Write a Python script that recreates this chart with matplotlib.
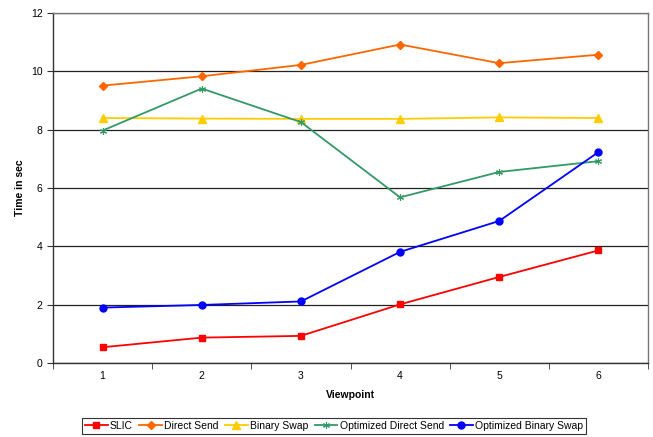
import matplotlib
matplotlib.use('Agg')
import matplotlib.pyplot as plt
import numpy as np

plt.rcParams['font.family'] = ['Liberation Sans', 'DejaVu Sans']

# --- Data ---
viewpoints = [1, 2, 3, 4, 5, 6]
slic = [0.54, 0.87, 0.93, 2.01, 2.95, 3.86]
direct_send = [9.51, 9.83, 10.22, 10.92, 10.28, 10.57]
binary_swap = [8.40, 8.38, 8.37, 8.37, 8.42, 8.40]
opt_direct_send = [7.97, 9.41, 8.26, 5.68, 6.55, 6.92]
opt_binary_swap = [1.90, 1.99, 2.11, 3.81, 4.87, 7.23]

series = [
    ("SLIC", slic, '#FF0000', 's', 5, 1),
    ("Direct Send", direct_send, '#FF6600', 'D', 4.5, 1),
    ("Binary Swap", binary_swap, '#FFCC00', '^', 6, 1),
    ("Optimized Direct Send", opt_direct_send, '#339966', (6, 2, 0), 5, 0.8),
    ("Optimized Binary Swap", opt_binary_swap, '#0000FF', 'o', 5, 1),
]

fig = plt.figure(figsize=(6.53, 4.37), dpi=100)
ax = fig.add_axes([53 / 653, 74 / 437, 595 / 653, 350 / 437])

x = np.arange(1, len(viewpoints) + 1)
for label, vals, color, marker, ms, mew in series:
    ax.plot(x, vals, color=color, marker=marker, markersize=ms, linewidth=1.3,
            markeredgecolor=color, markerfacecolor=color, markeredgewidth=mew,
            label=label, zorder=3)

ax.set_ylim(0, 12)
ax.set_yticks(np.arange(0, 13, 2))
ax.set_xlim(0.5, len(viewpoints) + 0.5)
ax.set_xticks(x)
ax.set_xticklabels([str(v) for v in viewpoints])
ax.set_xticks(np.arange(0.5, len(viewpoints) + 1, 1), minor=True)
ax.tick_params(axis='x', which='major', length=0, labelsize=7.5, pad=6)
ax.tick_params(axis='x', which='minor', length=4, direction='out', color='#333333')
ax.tick_params(axis='y', length=4, direction='out', labelsize=7.5, color='#333333')

ax.yaxis.grid(True, color='#222222', linewidth=0.9)
ax.set_axisbelow(True)
for side in ['top', 'right']:
    ax.spines[side].set_color('#777777')
    ax.spines[side].set_linewidth(1)
for side in ['left', 'bottom']:
    ax.spines[side].set_color('#333333')
    ax.spines[side].set_linewidth(1)

ax.set_xlabel("Viewpoint", fontsize=7.5, fontweight='bold', labelpad=6)
ax.set_ylabel("Time in sec", fontsize=7.5, fontweight='bold', labelpad=4)

leg = fig.legend(loc='center', bbox_to_anchor=(334 / 653, 1 - 426 / 437), ncol=5,
                 fontsize=7.5, frameon=True, fancybox=False, handlelength=2.2,
                 handletextpad=0.2, columnspacing=0.6, borderpad=0.3,
                 edgecolor='#000000')
leg.get_frame().set_linewidth(0.8)

fig.savefig('out.png', dpi=100)
